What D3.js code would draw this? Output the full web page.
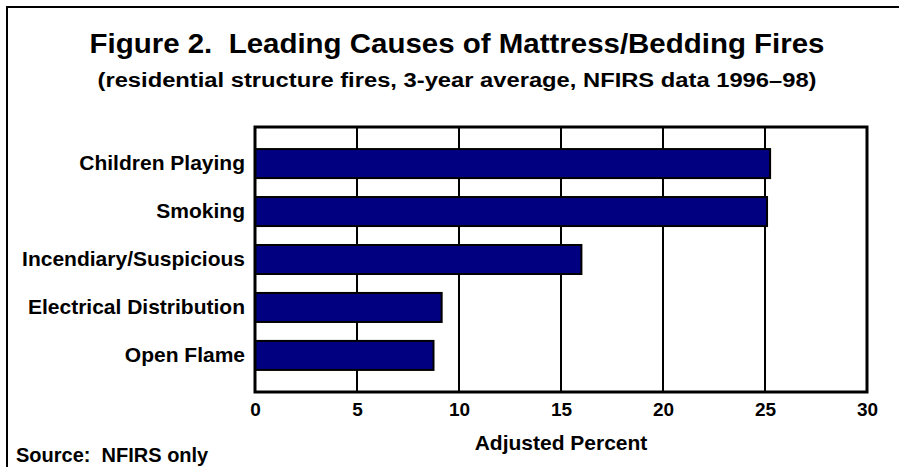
<!DOCTYPE html>
<html>
<head>
<meta charset="utf-8">
<script src="https://cdn.jsdelivr.net/npm/d3@7"></script>
<style>
  body { margin: 0; background: #fff; }
  text { font-family: "Liberation Sans", Arial, sans-serif; font-weight: bold; fill: #000; white-space: pre; }
</style>
</head>
<body>
<div id="chart"></div>
<script>
// data
var causes = ["Children Playing", "Smoking", "Incendiary/Suspicious", "Electrical Distribution", "Open Flame"];
var percents = [25.25, 25.1, 16.0, 9.15, 8.75];
var xTicks = [0, 5, 10, 15, 20, 25, 30];

var titleText = "Figure 2.  Leading Causes of Mattress/Bedding Fires";
var subtitleText = "(residential structure fires, 3-year average, NFIRS data 1996\u201398)";
var xLabel = "Adjusted Percent";
var sourceText = "Source:  NFIRS only";

// dimensions
var W = 899, H = 467;
var plot = {left: 255, right: 867, top: 127, bottom: 392};

var svg = d3.select("#chart").append("svg")
  .attr("width", W)
  .attr("height", H);

// outer frame (runs off the right/bottom edge)
svg.append("rect")
  .attr("x", 7).attr("y", 7)
  .attr("width", W + 20).attr("height", H + 20)
  .attr("fill", "#fff")
  .attr("stroke", "#000")
  .attr("stroke-width", 2);

// titles
svg.append("text")
  .attr("x", 457).attr("y", 53)
  .attr("text-anchor", "middle")
  .attr("xml:space", "preserve")
  .style("font-size", "28px")
  .attr("textLength", 735)
  .attr("lengthAdjust", "spacingAndGlyphs")
  .text(titleText);

svg.append("text")
  .attr("x", 457).attr("y", 87)
  .attr("text-anchor", "middle")
  .style("font-size", "20px")
  .attr("textLength", 719)
  .attr("lengthAdjust", "spacingAndGlyphs")
  .text(subtitleText);

// scales
var x = d3.scaleLinear()
  .domain([0, 30])
  .range([plot.left, plot.right]);

var y = d3.scaleBand()
  .domain(causes)
  .range([plot.top, plot.bottom])
  .paddingInner(0.395)
  .paddingOuter(0.46);

// vertical gridlines
svg.append("g")
  .selectAll("line")
  .data(xTicks.slice(1, -1))
  .enter().append("line")
  .attr("x1", function(d) { return x(d); })
  .attr("x2", function(d) { return x(d); })
  .attr("y1", plot.top)
  .attr("y2", plot.bottom)
  .attr("stroke", "#000")
  .attr("stroke-width", 2);

// bars
svg.append("g")
  .selectAll("rect")
  .data(causes)
  .enter().append("rect")
  .attr("x", x(0))
  .attr("y", function(d) { return y(d); })
  .attr("width", function(d, i) { return x(percents[i]) - x(0); })
  .attr("height", y.bandwidth())
  .attr("fill", "#000080")
  .attr("stroke", "#000")
  .attr("stroke-width", 2);

// plot box
svg.append("rect")
  .attr("x", plot.left).attr("y", plot.top)
  .attr("width", plot.right - plot.left)
  .attr("height", plot.bottom - plot.top)
  .attr("fill", "none")
  .attr("stroke", "#000")
  .attr("stroke-width", 3);

// x axis
var xAxis = svg.append("g")
  .attr("transform", "translate(0," + plot.bottom + ")")
  .call(d3.axisBottom(x).tickValues(xTicks).tickSize(0).tickPadding(11));
xAxis.select(".domain").remove();
xAxis.selectAll("text")
  .style("font-size", "19px")
  .style("font-family", "'Liberation Sans', Arial, sans-serif");

// y axis
var yAxis = svg.append("g")
  .attr("transform", "translate(" + (plot.left - 10) + ",0)")
  .call(d3.axisLeft(y).tickSize(0).tickPadding(0));
yAxis.select(".domain").remove();
yAxis.selectAll("text")
  .style("font-size", "21px")
  .style("font-family", "'Liberation Sans', Arial, sans-serif");

// axis title
svg.append("text")
  .attr("x", (plot.left + plot.right) / 2)
  .attr("y", 450)
  .attr("text-anchor", "middle")
  .style("font-size", "21px")
  .text(xLabel);

// source note
svg.append("text")
  .attr("x", 16).attr("y", 462)
  .attr("xml:space", "preserve")
  .style("font-size", "20px")
  .text(sourceText);
</script>
</body>
</html>
